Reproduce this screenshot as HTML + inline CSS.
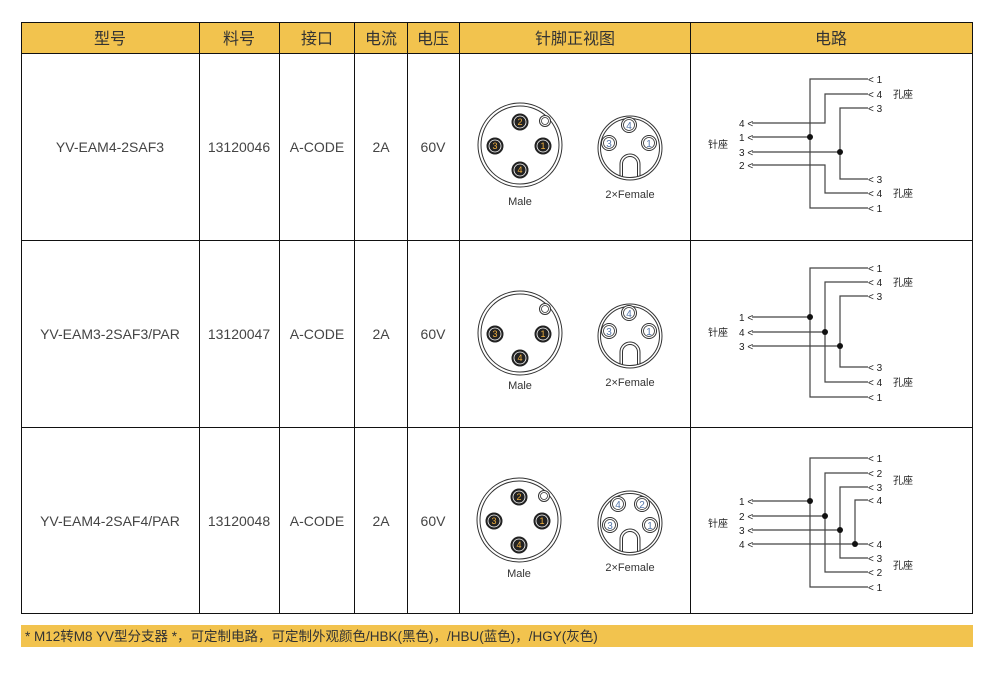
<!DOCTYPE html>
<html><head><meta charset="utf-8"><style>
html,body{margin:0;padding:0;background:#fff;width:996px;height:676px;overflow:hidden}
svg{display:block}
text{font-family:"Liberation Sans","Noto Sans CJK SC",sans-serif}
</style></head><body>
<svg width="996" height="676" viewBox="0 0 996 676" xmlns="http://www.w3.org/2000/svg">
<defs>
<g id="male">
  <circle cx="0" cy="0" r="42" fill="#fff" stroke="#333" stroke-width="1"/>
  <circle cx="0" cy="0" r="39" fill="none" stroke="#333" stroke-width="1"/>
  <circle cx="25" cy="-24" r="5.5" fill="#fff" stroke="#333" stroke-width="1"/>
  <circle cx="25" cy="-24" r="3.5" fill="none" stroke="#333" stroke-width="0.8"/>
  <g fill="#222" stroke="#222">
    <circle cx="-25" cy="1" r="8"/><circle cx="23" cy="1" r="8"/><circle cx="0" cy="25" r="8"/>
  </g>
  <g fill="none" stroke="#fff" stroke-width="0.8">
    <circle cx="-25" cy="1" r="6"/><circle cx="23" cy="1" r="6"/><circle cx="0" cy="25" r="6"/>
  </g>
</g>
<g id="p2">
  <circle cx="0" cy="-23" r="8" fill="#222" stroke="#222"/>
  <circle cx="0" cy="-23" r="6" fill="none" stroke="#fff" stroke-width="0.8"/>
</g>
<g id="fem">
  <circle cx="0" cy="0" r="32" fill="#fff" stroke="#333" stroke-width="1"/>
  <circle cx="0" cy="0" r="29.5" fill="none" stroke="#333" stroke-width="1"/>
  <path d="M-10 28 V16 A10 10 0 0 1 10 16 V28" fill="none" stroke="#333" stroke-width="1"/>
  <path d="M-7.5 29 V16 A7.5 7.5 0 0 1 7.5 16 V29" fill="none" stroke="#333" stroke-width="1"/>
</g>
<g id="fp"><circle r="7.5" fill="#fff" stroke="#333"/><circle r="5.5" fill="none" stroke="#333" stroke-width="0.8"/></g>
</defs>

<rect x="21.5" y="22.5" width="951" height="31" fill="#F2C34E" stroke="#111"/>
<rect x="21.5" y="22.5" width="951" height="591" fill="none" stroke="#111"/>
<g stroke="#111" stroke-width="1">
<line x1="199.5" y1="22" x2="199.5" y2="614"/>
<line x1="279.5" y1="22" x2="279.5" y2="614"/>
<line x1="354.5" y1="22" x2="354.5" y2="614"/>
<line x1="407.5" y1="22" x2="407.5" y2="614"/>
<line x1="459.5" y1="22" x2="459.5" y2="614"/>
<line x1="690.5" y1="22" x2="690.5" y2="614"/>
<line x1="21" y1="240.5" x2="973" y2="240.5"/>
<line x1="21" y1="427.5" x2="973" y2="427.5"/>
</g>
<g font-size="16" fill="#333" text-anchor="middle">
<text x="110" y="44">型号</text><text x="239" y="44">料号</text><text x="317" y="44">接口</text>
<text x="381" y="44">电流</text><text x="433" y="44">电压</text><text x="575" y="44">针脚正视图</text><text x="831" y="44">电路</text>
</g>
<g font-size="14" fill="#444" text-anchor="middle">
<text x="110" y="152">YV-EAM4-2SAF3</text><text x="239" y="152">13120046</text><text x="317" y="152">A-CODE</text><text x="381" y="152">2A</text><text x="433" y="152">60V</text>
<text x="110" y="339">YV-EAM3-2SAF3/PAR</text><text x="239" y="339">13120047</text><text x="317" y="339">A-CODE</text><text x="381" y="339">2A</text><text x="433" y="339">60V</text>
<text x="110" y="526">YV-EAM4-2SAF4/PAR</text><text x="239" y="526">13120048</text><text x="317" y="526">A-CODE</text><text x="381" y="526">2A</text><text x="433" y="526">60V</text>
</g>

<use href="#male" x="520" y="145"/><use href="#p2" x="520" y="145"/>
<g font-size="9" fill="#f0b040" text-anchor="middle">
<text x="520" y="125">2</text><text x="495" y="149">3</text><text x="543" y="149">1</text><text x="520" y="173">4</text></g>
<use href="#fem" x="630" y="148"/>
<use href="#fp" x="629" y="125"/><use href="#fp" x="609" y="143"/><use href="#fp" x="649" y="143"/>
<g font-size="10" fill="#5577aa" text-anchor="middle"><text x="629" y="129">4</text><text x="609" y="147">3</text><text x="649" y="147">1</text></g>
<text x="520" y="205" font-size="11" fill="#333" text-anchor="middle">Male</text>
<text x="630" y="198" font-size="11" fill="#333" text-anchor="middle">2×Female</text>

<use href="#male" x="520" y="333"/>
<g font-size="9" fill="#f0b040" text-anchor="middle">
<text x="495" y="337">3</text><text x="543" y="337">1</text><text x="520" y="361">4</text></g>
<use href="#fem" x="630" y="336"/>
<use href="#fp" x="629" y="313"/><use href="#fp" x="609" y="331"/><use href="#fp" x="649" y="331"/>
<g font-size="10" fill="#5577aa" text-anchor="middle"><text x="629" y="317">4</text><text x="609" y="335">3</text><text x="649" y="335">1</text></g>
<text x="520" y="389" font-size="11" fill="#333" text-anchor="middle">Male</text>
<text x="630" y="386" font-size="11" fill="#333" text-anchor="middle">2×Female</text>

<use href="#male" x="519" y="520"/><use href="#p2" x="519" y="520"/>
<g font-size="9" fill="#f0b040" text-anchor="middle">
<text x="519" y="500">2</text><text x="494" y="524">3</text><text x="542" y="524">1</text><text x="519" y="548">4</text></g>
<use href="#fem" x="630" y="523"/>
<use href="#fp" x="618" y="504"/><use href="#fp" x="642" y="504"/><use href="#fp" x="610" y="525"/><use href="#fp" x="650" y="525"/>
<g font-size="10" fill="#5577aa" text-anchor="middle"><text x="618" y="508">4</text><text x="642" y="508">2</text><text x="610" y="529">3</text><text x="650" y="529">1</text></g>
<text x="519" y="577" font-size="11" fill="#333" text-anchor="middle">Male</text>
<text x="630" y="571" font-size="11" fill="#333" text-anchor="middle">2×Female</text>

<g fill="none" stroke="#444" stroke-width="1.2">
<path d="M868 79 H810 V208 H868"/>
<path d="M868 94 H825 V123 H752"/>
<path d="M868 193 H825 V165 H752"/>
<path d="M868 108 H840 V179 H868"/>
<path d="M752 137 H810 M752 152 H840"/>
<path d="M868 268 H810 V397 H868"/>
<path d="M868 282 H825 V382 H868"/>
<path d="M868 296 H840 V367 H868"/>
<path d="M752 317 H810 M752 332 H825 M752 346 H840"/>
<path d="M868 458 H810 V587 H868"/>
<path d="M868 473 H825 V572 H868"/>
<path d="M868 487 H840 V558 H868"/>
<path d="M868 500 H855 V544"/>
<path d="M752 501 H810 M752 516 H825 M752 530 H840 M752 544 H868"/>
</g>
<g fill="#111">
<circle cx="810" cy="137" r="3"/><circle cx="840" cy="152" r="3"/>
<circle cx="810" cy="317" r="3"/><circle cx="825" cy="332" r="3"/><circle cx="840" cy="346" r="3"/>
<circle cx="810" cy="501" r="3"/><circle cx="825" cy="516" r="3"/><circle cx="840" cy="530" r="3"/><circle cx="855" cy="544" r="3"/>
</g>
<g font-size="10" fill="#222">
<text x="868" y="83">&lt; 1</text><text x="868" y="98">&lt; 4</text><text x="868" y="112">&lt; 3</text>
<text x="868" y="183">&lt; 3</text><text x="868" y="197">&lt; 4</text><text x="868" y="212">&lt; 1</text>
<text x="893" y="98">孔座</text><text x="893" y="197">孔座</text>
<text x="739" y="127">4 &lt;</text><text x="739" y="141">1 &lt;</text><text x="739" y="156">3 &lt;</text><text x="739" y="169">2 &lt;</text>
<text x="708" y="148">针座</text>
<text x="868" y="272">&lt; 1</text><text x="868" y="286">&lt; 4</text><text x="868" y="300">&lt; 3</text>
<text x="868" y="371">&lt; 3</text><text x="868" y="386">&lt; 4</text><text x="868" y="401">&lt; 1</text>
<text x="893" y="286">孔座</text><text x="893" y="386">孔座</text>
<text x="739" y="321">1 &lt;</text><text x="739" y="336">4 &lt;</text><text x="739" y="350">3 &lt;</text>
<text x="708" y="336">针座</text>
<text x="868" y="462">&lt; 1</text><text x="868" y="477">&lt; 2</text><text x="868" y="491">&lt; 3</text><text x="868" y="504">&lt; 4</text>
<text x="868" y="548">&lt; 4</text><text x="868" y="562">&lt; 3</text><text x="868" y="576">&lt; 2</text><text x="868" y="591">&lt; 1</text>
<text x="893" y="484">孔座</text><text x="893" y="569">孔座</text>
<text x="739" y="505">1 &lt;</text><text x="739" y="520">2 &lt;</text><text x="739" y="534">3 &lt;</text><text x="739" y="548">4 &lt;</text>
<text x="708" y="527">针座</text>
</g>

<rect x="21" y="625" width="952" height="22" fill="#F2C34E"/>
<text x="25" y="641" font-size="13.5" fill="#333">* M12转M8 YV型分支器 *，可定制电路，可定制外观颜色/HBK(黑色)，/HBU(蓝色)，/HGY(灰色)</text>
</svg>
</body></html>
